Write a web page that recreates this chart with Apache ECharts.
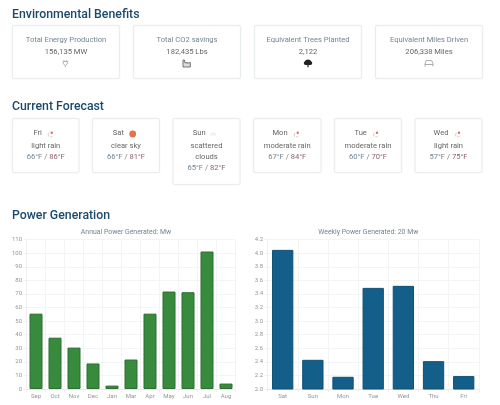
<!DOCTYPE html>
<html>
<head>
<meta charset="utf-8">
<style>html,body{margin:0;padding:0;background:#fff}#c{width:500px;height:405px}</style>
<script src="https://cdn.jsdelivr.net/npm/echarts@6/dist/echarts.min.js"></script>
</head>
<body>
<div id="c"></div>
<script>
// Data
const months = ['Sep','Oct','Nov','Dec','Jan','Mar','Apr','May','Jun','Jul','Aug'];
const annualPower = [55.5,37.8,30.5,18.8,2.5,21.7,55.5,71.8,71.3,101.3,4];
const weekdays = ['Sat','Sun','Mon','Tue','Wed','Thu','Fri'];
const weeklyPower = [4.05,2.43,2.18,3.49,3.52,2.41,2.19];
const benefitLabels = ['Total Energy Production','Total CO2 savings','Equivalent Trees Planted','Equivalent Miles Driven'];
const benefitValues = ['156,135 MW','182,435 Lbs','2,122','206,338 Miles'];
const forecastDays = ['Fri','Sat','Sun','Mon','Tue','Wed'];
const forecastSky = [['light rain'],['clear sky'],['scattered','clouds'],['moderate rain'],['moderate rain'],['light rain']];
const forecastLow = ['66°F','66°F','65°F','67°F','60°F','57°F'];
const forecastHigh = ['86°F','81°F','82°F','84°F','70°F','75°F'];

const FONT = 'Roboto, sans-serif';
const BODY = 7.6;
const gfx = [];
function text(t, x, y, size, color) {
  gfx.push({type:'text', x, y, silent:true, style:{
    text:t, font:`${size}px ${FONT}`, fill:color, textAlign:'center', textVerticalAlign:'middle'}});
}
function heading(t, y) {
  gfx.push({type:'text', x:12, y, silent:true, style:{text:t, font:`500 12.3px ${FONT}`, fill:'#1b4a6b', textAlign:'left', textVerticalAlign:'middle'}});
}
function card(x0, y0, x1, y1) {
  gfx.push({type:'rect', silent:true, shape:{x:x0, y:y0, width:x1-x0, height:y1-y0, r:1.5},
    style:{fill:'#fff', stroke:'#eaeded', lineWidth:1, shadowBlur:2, shadowColor:'rgba(0,0,0,0.05)'}});
}
function poly(points, stroke, w) {
  gfx.push({type:'polyline',silent:true,shape:{points},style:{fill:null,stroke,lineWidth:w}});
}
function fillPoly(points, fill, stroke, w) {
  gfx.push({type:'polygon',silent:true,shape:{points},style:{fill,stroke:stroke||null,lineWidth:w||0}});
}

heading('Environmental Benefits', 15);
heading('Current Forecast', 107);
heading('Power Generation', 215.7);
text('Annual Power Generated: Mw',126,232,6.9,'#71878f');
text('Weekly Power Generated: 20 Mw',368.3,232,6.9,'#71878f');

// Benefit cards
const benefitBoxes = [[12.5,119.5],[133.5,240.5],[254.5,361.5],[375.5,482.5]];
benefitBoxes.forEach((b,i)=>{
  card(b[0],25.5,b[1],78.5);
  const c=(b[0]+b[1])/2;
  text(benefitLabels[i],c,40.5,BODY,'#71878f');
  text(benefitValues[i],c,52,BODY,'#666');
});
// Icons
poly([[64,60],[64,61.5]],'#999',0.7);
poly([[66.6,60],[66.6,61.5]],'#999',0.7);
poly([[63,61.5],[67.6,61.5],[67.2,64],[65.3,65.5],[63.4,64],[63,61.5]],'#999',0.7);
poly([[65.3,65.5],[65.3,67]],'#999',0.7);
fillPoly([[183,60],[184.4,60],[185,63],[187,62.4],[187,63.2],[190.3,62.6],[190.3,67],[183,67]],'#ddd','#666',0.9);
fillPoly([[308,59.5],[310,60],[311.2,61.3],[312.2,62.6],[312,64.2],[310.5,65],[308.6,65],[308.6,67.2],[307.4,67.2],[307.4,65],[305.5,65],[304,64.2],[303.8,62.6],[304.8,61.3],[306,60]],'#222');
poly([[425,66.5],[425,63.8],[426.3,60.5],[431.7,60.5],[433,63.8],[433,66.5]],'#999',0.8);
poly([[425,64.5],[433,64.5]],'#999',0.8);

// Forecast cards
const forecastBoxes = [[12.5,79],[92.5,159.5],[173,240],[253.5,321],[334.5,401.5],[415,482]];
const dayX = [37.7,118.3,199.3,280,360.7,441];
const iconX = [50.7,132.7,213.3,296.7,376,458];
const rich = {lo:{fill:'#6f8496',font:`${BODY}px ${FONT}`},sep:{fill:'#777',font:`${BODY}px ${FONT}`},hi:{fill:'#8d5f6a',font:`${BODY}px ${FONT}`}};
forecastBoxes.forEach((b,i)=>{
  const lines=forecastSky[i];
  card(b[0],118.5,b[1],lines.length>1?184.5:172.5);
  const c=(b[0]+b[1])/2;
  text(forecastDays[i],dayX[i],133.3,BODY,'#666');
  lines.forEach((l,k)=>text(l,c,145.7+k*11.5,BODY,'#666'));
  const ty=145.5+lines.length*11.5;
  gfx.push({type:'text',x:c,y:ty,silent:true,style:{
    text:`{lo|${forecastLow[i]}}{sep| / }{hi|${forecastHigh[i]}}`,rich,textAlign:'center',textVerticalAlign:'middle'}});
  const ix=iconX[i];
  if(forecastDays[i]==='Sat'){
    gfx.push({type:'circle',silent:true,shape:{cx:ix,cy:134,r:3.4},style:{fill:'#e8704a'}});
  } else if(forecastDays[i]==='Sun'){
    fillPoly([[ix-3.5,135.5],[ix-2,133],[ix,132.3],[ix+2,133],[ix+3.5,135.5]],'#eef0f1');
  } else {
    gfx.push({type:'circle',silent:true,shape:{cx:ix+1,cy:132.7,r:1.2},style:{fill:'#dc6f66'}});
    poly([[ix-1.5,132.7],[ix-2.6,134.5],[ix-2,136.5]],'#d5d8db',1.1);
    poly([[ix-0.8,137],[ix+1.5,136.5]],'#ecc9c9',1);
  }
});

const splitLine = {show:true,lineStyle:{color:'#f3f4f4',width:1}};
const tickLabel = {color:'#959595',fontSize:6,fontFamily:FONT};
function xAxis(i,data){return {gridIndex:i,type:'category',data,
  axisLine:{show:true,lineStyle:{color:'#e6e6e6'}},axisTick:{show:true,alignWithLabel:false,length:3,lineStyle:{color:'#f0f0f0'}},
  axisLabel:Object.assign({},tickLabel,{margin:4.5,interval:0}),splitLine};}

const option = {
  animation:false,
  backgroundColor:'#fff',
  grid:[
    {left:26.5,right:264.5,top:239.7,bottom:16},
    {left:267.6,right:21.2,top:239.7,bottom:16}
  ],
  xAxis:[xAxis(0,months),xAxis(1,weekdays)],
  yAxis:[
    {gridIndex:0,type:'value',min:0,max:110,interval:10,axisLine:{show:true,lineStyle:{color:'#f0f0f0'}},axisTick:{show:true,length:3,lineStyle:{color:'#f0f0f0'}},axisLabel:Object.assign({},tickLabel,{margin:4.5}),splitLine},
    {gridIndex:1,type:'value',min:2,max:4.2,interval:0.2,axisLine:{show:true,lineStyle:{color:'#f0f0f0'}},axisTick:{show:true,length:3,lineStyle:{color:'#f0f0f0'}},axisLabel:Object.assign({},tickLabel,{margin:4.5,formatter:v=>v.toFixed(1)}),splitLine}
  ],
  series:[
    {type:'bar',xAxisIndex:0,yAxisIndex:0,data:annualPower,barWidth:13,itemStyle:{color:'#388a3c',borderColor:'#2a6f30',borderWidth:1}},
    {type:'bar',xAxisIndex:1,yAxisIndex:1,data:weeklyPower,barWidth:21.3,itemStyle:{color:'#145f8a',borderColor:'#0f4f76',borderWidth:1}}
  ],
  graphic:{elements:gfx}
};
const chart = echarts.init(document.getElementById('c'),null,{renderer:'canvas'});
chart.setOption(option);
</script>
</body>
</html>
